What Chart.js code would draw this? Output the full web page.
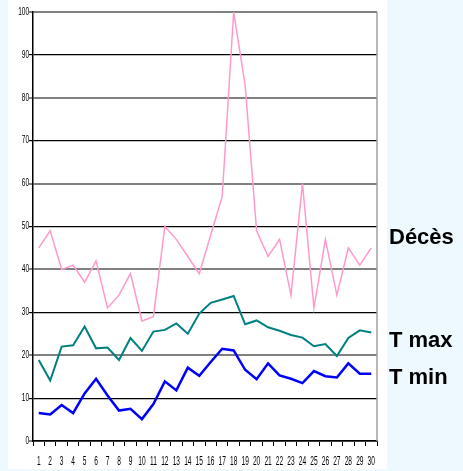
<!DOCTYPE html>
<html>
<head>
<meta charset="utf-8">
<script src="https://cdn.jsdelivr.net/npm/chart.js@4/dist/chart.umd.min.js"></script>
<style>
  html, body { margin: 0; padding: 0; background: #EEF8FF; }
  #wrap { position: relative; width: 463px; height: 471px; }
  canvas { display: block; }
</style>
</head>
<body>
<div id="wrap"><canvas id="c" width="463" height="471"></canvas></div>
<script>
const days = ['1','2','3','4','5','6','7','8','9','10','11','12','13','14','15','16','17','18','19','20','21','22','23','24','25','26','27','28','29','30'];
const deces = [45, 49, 40, 41, 37, 42, 31, 34, 39, 28, 29, 50, 47, 43, 39, 48, 57, 100, 83, 49, 43, 47, 34, 60, 31, 47, 34, 45, 41, 45];
const tmax = [18.9, 14.1, 22.0, 22.3, 26.7, 21.6, 21.8, 18.9, 24.0, 21.0, 25.5, 25.9, 27.4, 25.0, 29.7, 32.2, 33.0, 33.8, 27.2, 28.1, 26.5, 25.7, 24.7, 24.1, 22.1, 22.6, 19.8, 24.0, 25.8, 25.3];
const tmin = [6.5, 6.2, 8.4, 6.5, 11.1, 14.5, 10.6, 7.1, 7.5, 5.1, 8.6, 13.9, 11.8, 17.1, 15.2, 18.4, 21.5, 21.1, 16.6, 14.4, 18.1, 15.3, 14.5, 13.5, 16.3, 15.1, 14.8, 18.1, 15.7, 15.7];
const seriesNames = ['Décès', 'T max', 'T min'];

const panelPlugin = {
  id: 'panel',
  beforeDraw(chart) {
    const ctx = chart.ctx;
    ctx.save();
    ctx.fillStyle = '#EEF8FF';
    ctx.fillRect(0, 0, chart.width, chart.height);
    ctx.fillStyle = '#FFFFFF';
    ctx.fillRect(8, 0, 379, 469);
    ctx.restore();
  },
  afterDatasetsDraw(chart) {
    const ctx = chart.ctx;
    const a = chart.chartArea;
    ctx.save();
    ctx.strokeStyle = '#A0A0A0';
    ctx.lineWidth = 1.5;
    ctx.beginPath();
    ctx.moveTo(a.right, a.top);
    ctx.lineTo(a.right, a.bottom);
    ctx.stroke();
    ctx.restore();
  },
  afterDraw(chart) {
    const ctx = chart.ctx;
    const a = chart.chartArea;
    const xs = chart.scales.x;
    const ys = chart.scales.y;
    ctx.save();
    ctx.fillStyle = '#000000';
    ctx.textBaseline = 'middle';
    ctx.font = "12px 'Liberation Sans', Arial, sans-serif";
    ctx.textAlign = 'center';
    xs.ticks.forEach((t, i) => {
      const px = xs.getPixelForTick(i);
      ctx.save();
      ctx.translate(px, 462);
      ctx.scale(0.55, 1);
      ctx.fillText(days[i], 0, 0);
      ctx.restore();
    });
    ctx.font = "10px 'Liberation Sans', Arial, sans-serif";
    ctx.textAlign = 'right';
    ys.ticks.forEach((t) => {
      const py = ys.getPixelForValue(t.value);
      ctx.save();
      ctx.translate(29, py);
      ctx.scale(0.65, 1);
      ctx.fillText(String(t.value), 0, 0);
      ctx.restore();
    });
    ctx.font = "bold 22px 'Liberation Sans', Arial, sans-serif";
    ctx.textAlign = 'left';
    const labelY = [47.3, 23.3, 14.6];
    seriesNames.forEach((n, i) => {
      ctx.fillText(n, a.right + 12, ys.getPixelForValue(labelY[i]));
    });
    ctx.restore();
  }
};

new Chart(document.getElementById('c'), {
  type: 'line',
  data: {
    labels: days,
    datasets: [
      { label: seriesNames[0], data: deces, borderColor: '#FF99CC', borderWidth: 1.5, pointRadius: 0, tension: 0, fill: false },
      { label: seriesNames[1], data: tmax, borderColor: '#008080', borderWidth: 2, pointRadius: 0, tension: 0, fill: false },
      { label: seriesNames[2], data: tmin, borderColor: '#0000FF', borderWidth: 2.5, pointRadius: 0, tension: 0, fill: false }
    ]
  },
  options: {
    responsive: false,
    animation: false,
    events: [],
    layout: { padding: { left: 0, right: 86, top: 12, bottom: 0 } },
    plugins: { legend: { display: false }, tooltip: { enabled: false } },
    scales: {
      x: {
        offset: true,
        grid: { offset: true, drawOnChartArea: false, drawTicks: true, tickLength: 5, color: '#000000', lineWidth: 1 },
        border: { display: true, color: '#000000', width: 1.5 },
        ticks: { display: false, autoSkip: false, maxRotation: 0 },
        afterFit(s) { s.height = 30; }
      },
      y: {
        min: 0, max: 100,
        ticks: { display: false, stepSize: 10 },
        grid: {
          drawTicks: true, tickLength: 4,
          color: (c) => (c.tick && c.tick.value % 20 === 0) ? '#808080' : '#000000',
          lineWidth: (c) => (c.tick && c.tick.value % 20 === 0) ? 2 : 1.2
        },
        border: { display: true, color: '#000000', width: 1.5 },
        afterFit(s) { s.width = 33; }
      }
    }
  },
  plugins: [panelPlugin]
});
</script>
</body>
</html>
